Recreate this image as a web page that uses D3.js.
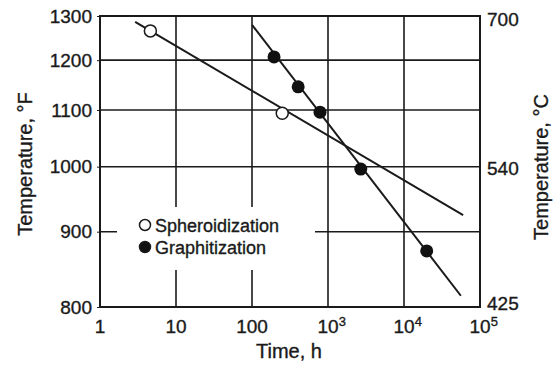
<!DOCTYPE html>
<html><head><meta charset="utf-8">
<script src="https://cdn.jsdelivr.net/npm/d3@7"></script>
<style>
body{margin:0;background:#fff}
text{font-family:"Liberation Sans",Arial,sans-serif;fill:#1a1a1a;stroke:#1a1a1a;stroke-width:0.35px}
</style>
</head><body>
<svg id="c" width="555" height="365"></svg>
<script>
// ---- data ----
const timeTicks = [1, 10, 100, 1000, 10000, 100000];
const timeTickBase = ["1", "10", "100", "10", "10", "10"];
const timeTickExp = ["", "", "", "3", "4", "5"];
const tempFTicks = [800, 900, 1000, 1100, 1200, 1300];
const tempCTicks = [425, 540, 700];
const spheroTime = [4.6, 250];
const spheroTemp = [1265, 1094];
const graphTime = [195, 405, 785, 2700, 19900];
const graphTemp = [1207, 1145, 1096, 996, 873];
const spheroFitTime = [2.9, 60000];
const spheroFitTemp = [1286, 924];
const graphFitTime = [100, 56000];
const graphFitTemp = [1279, 814];
const legendLabels = ["Spheroidization", "Graphitization"];

const svg = d3.select("#c");
const L = 100, R = 480, T = 16, B = 307;
const FT = 19, FL = 18, FA = 20;
const x = d3.scaleLog().domain([1, 1e5]).range([L, R]);
const inv = f => 1 / (f + 459.67);
const yr = d3.scaleLinear().domain([inv(1300), inv(800)]).range([T, B]);
const y = f => yr(inv(f));
const c2f = c => c * 9 / 5 + 32;

// grid
const grid = svg.append("g").attr("stroke", "#1a1a1a").attr("stroke-width", 1.6);
timeTicks.slice(1, -1).forEach(t => grid.append("line").attr("x1", x(t)).attr("x2", x(t)).attr("y1", T).attr("y2", B));
tempFTicks.slice(1, -1).forEach(f => grid.append("line").attr("x1", L).attr("x2", R).attr("y1", y(f)).attr("y2", y(f)));

// left axis
const ax = svg.append("g").attr("transform", `translate(${L},0)`)
  .call(d3.axisLeft(yr).tickValues(tempFTicks.map(inv)).tickSize(3).tickPadding(5)
    .tickFormat(d => Math.round(1 / d - 459.67)));
ax.select(".domain").remove();
ax.selectAll("text").attr("font-size", FT).attr("fill", "#1a1a1a").attr("font-family", "Liberation Sans,Arial,sans-serif");
ax.selectAll("line").attr("stroke", "#1a1a1a");

// right axis
const rightNudge = {425: -6, 540: 4, 700: 0};
const ar = svg.append("g").attr("transform", `translate(${R},0)`)
  .call(d3.axisRight(yr).tickValues(tempCTicks.map(c => inv(c2f(c)))).tickSize(0).tickPadding(7)
    .tickFormat(d => Math.round((1 / d - 459.67 - 32) * 5 / 9 / 5) * 5));
ar.select(".domain").remove();
ar.selectAll("text").attr("font-size", FT).attr("fill", "#1a1a1a").attr("font-family", "Liberation Sans,Arial,sans-serif")
  .attr("y", function() { return rightNudge[+this.textContent] || 0; });

// bottom axis
const ab = svg.append("g").attr("transform", `translate(0,${B})`)
  .call(d3.axisBottom(x).tickValues(timeTicks).tickSize(0).tickFormat(""));
ab.select(".domain").remove();
timeTicks.forEach((t, i) => {
  const tx = svg.append("text").attr("font-size", FT).attr("y", 333);
  if (timeTickExp[i]) {
    tx.attr("x", x(t) - 10.5).attr("text-anchor", "start");
    tx.append("tspan").text(timeTickBase[i]);
    tx.append("tspan").attr("font-size", 13).attr("dy", -7).text(timeTickExp[i]);
  } else {
    tx.attr("x", x(t)).attr("text-anchor", "middle").text(timeTickBase[i]);
  }
});

// frame
svg.append("rect").attr("x", L).attr("y", T).attr("width", R - L).attr("height", B - T)
  .attr("fill", "none").attr("stroke", "#1a1a1a").attr("stroke-width", 2);

// fit lines
const line = d3.line().x(d => x(d[0])).y(d => y(d[1]));
svg.append("path").attr("d", line(spheroFitTime.map((t, i) => [t, spheroFitTemp[i]])))
  .attr("fill", "none").attr("stroke", "#1a1a1a").attr("stroke-width", 2);
svg.append("path").attr("d", line(graphFitTime.map((t, i) => [t, graphFitTemp[i]])))
  .attr("fill", "none").attr("stroke", "#1a1a1a").attr("stroke-width", 2);

// points
svg.selectAll(".sp").data(spheroTime).enter().append("circle")
  .attr("cx", d => x(d)).attr("cy", (d, i) => y(spheroTemp[i])).attr("r", 6)
  .attr("fill", "#fff").attr("stroke", "#1a1a1a").attr("stroke-width", 1.5);
svg.selectAll(".gp").data(graphTime).enter().append("circle")
  .attr("cx", d => x(d)).attr("cy", (d, i) => y(graphTemp[i])).attr("r", 6.5)
  .attr("fill", "#111");

// legend
svg.append("rect").attr("x", 117).attr("y", 207).attr("width", 198).attr("height", 63).attr("fill", "#fff");
legendLabels.forEach((lab, i) => {
  const cy = 225 + i * 22;
  svg.append("circle").attr("cx", 145).attr("cy", cy).attr("r", 5.5)
    .attr("fill", i ? "#111" : "#fff").attr("stroke", "#1a1a1a").attr("stroke-width", 1.5);
  svg.append("text").attr("x", 155).attr("y", cy + 6.5).attr("font-size", FL).text(lab);
});

// axis titles
svg.append("text").attr("transform", `translate(32,164) rotate(-90)`).attr("text-anchor", "middle")
  .attr("font-size", FA).text("Temperature, °F");
svg.append("text").attr("transform", `translate(548,167) rotate(-90)`).attr("text-anchor", "middle")
  .attr("font-size", FA).text("Temperature, °C");
svg.append("text").attr("x", 289).attr("y", 358).attr("text-anchor", "middle")
  .attr("font-size", FA).text("Time, h");
</script>
</body></html>
